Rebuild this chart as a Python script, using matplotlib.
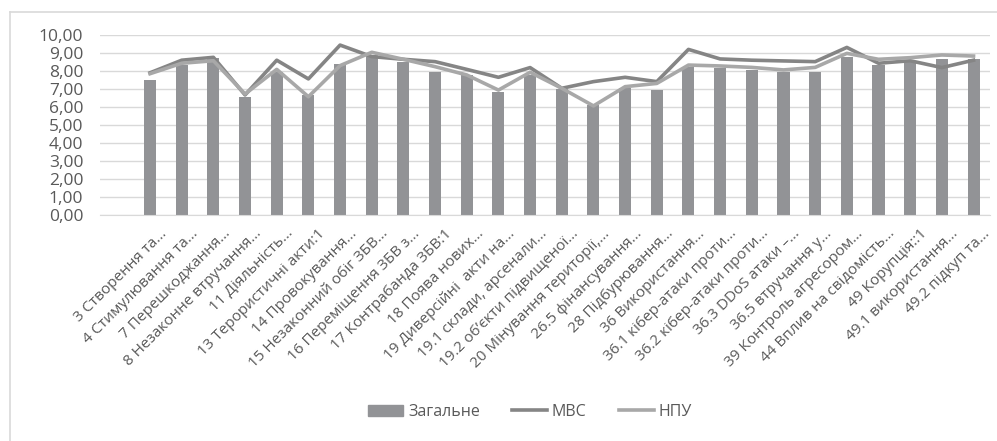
import matplotlib.pyplot as plt
import matplotlib.transforms as mtransforms
import numpy as np
from matplotlib.ticker import FuncFormatter
from matplotlib.lines import Line2D

categories = [
    "3 Створення та...", "4 Стимулювання та...", "7 Перешкоджання...",
    "8 Незаконне втручання...", "11 Діяльність...", "13 Терористичні акти:1",
    "14 Провокування...", "15 Незаконний обіг ЗБВ...", "16 Переміщення ЗБВ з...",
    "17 Контрабанда ЗБВ:1", "18 Поява нових...", "19 Диверсійні  акти на...",
    "19.1 склади, арсенали...", "19.2 об’єкти підвищеної...",
    "20 Мінування території,...", "26.5 фінансування...", "28 Підбурювання...",
    "36 Використання...", "36.1 кібер-атаки проти...", "36.2 кібер-атаки проти...",
    "36.3 DDoS атаки –...", "36.5 втручання у...", "39 Контроль агресором...",
    "44 Вплив на свідомість...", "49 Корупція::1", "49.1 використання...",
    "49.2 підкуп та...",
]

zagalne = [7.50, 8.33, 8.70, 6.54, 7.96, 6.67, 8.37, 8.89, 8.52, 7.93, 7.78,
           6.81, 7.78, 7.00, 6.11, 7.04, 6.94, 8.24, 8.15, 8.06, 7.96, 7.96,
           8.76, 8.33, 8.52, 8.65, 8.65]
mvs = [7.90, 8.60, 8.76, 6.67, 8.60, 7.56, 9.44, 8.80, 8.65, 8.52, 8.09,
       7.65, 8.19, 7.04, 7.41, 7.65, 7.41, 9.20, 8.67, 8.60, 8.56, 8.52,
       9.31, 8.43, 8.57, 8.19, 8.60]
npu = [7.85, 8.43, 8.57, 6.72, 8.09, 6.57, 8.30, 9.04, 8.65, 8.24, 7.78,
       6.94, 7.93, 7.04, 6.06, 7.13, 7.31, 8.33, 8.28, 8.20, 8.06, 8.20,
       8.98, 8.65, 8.74, 8.89, 8.83]

plt.rcParams['font.family'] = ['Open Sans', 'DejaVu Sans']
txt = '#595959'
grid = '#d9d9d9'

fig = plt.figure(figsize=(9.97, 4.41), dpi=100)
ax = fig.add_axes([100 / 997, 1 - 215 / 441, 890 / 997, 180 / 441])

x = np.arange(len(categories))
ax.bar(x, zagalne, width=0.38, color='#929396', zorder=2)
ax.plot(x, mvs, color='#858585', lw=2.6, zorder=3)
ax.plot(x, npu, color='#a8a8a8', lw=2.6, zorder=4)

ax.set_ylim(0, 10)
ax.set_yticks(np.arange(0, 11, 1))
ax.yaxis.set_major_formatter(FuncFormatter(lambda v, p: f"{v:.2f}".replace('.', ',')))
ax.set_xlim(-1.58, 26.52)
ax.set_xticks(x)
ax.set_xticklabels(categories, rotation=45, ha='right', va='top',
                   rotation_mode='anchor', fontsize=11, color=txt)
ax.tick_params(axis='y', length=0, labelsize=12.5, colors=txt, pad=12)
ax.tick_params(axis='x', length=0, pad=8)
shift = mtransforms.ScaledTranslation(0.09, 0, fig.dpi_scale_trans)
for lbl in ax.get_xticklabels():
    lbl.set_transform(lbl.get_transform() + shift)
ax.grid(axis='y', color=grid, lw=1, zorder=0)
for s in ['top', 'right', 'left']:
    ax.spines[s].set_visible(False)
ax.spines['bottom'].set_color(grid)

handles = [
    plt.Rectangle((0, 0), 1, 1, color='#929396'),
    Line2D([], [], color='#858585', lw=2.6),
    Line2D([], [], color='#a8a8a8', lw=2.6),
]
fig.legend(handles, ['Загальне', 'МВС', 'НПУ'], loc='center', ncol=3,
           bbox_to_anchor=(530 / 997, 1 - 412 / 441), frameon=False,
           fontsize=11.5, labelcolor=txt, handlelength=2.2, columnspacing=2.0,
           handletextpad=0.3)

# chart-area frame
fig.add_artist(Line2D([10 / 997, 1], [1 - 12 / 441] * 2, color=grid, lw=1.2))
fig.add_artist(Line2D([10 / 997] * 2, [0, 1 - 12 / 441], color=grid, lw=1.2))

plt.savefig("out.png", dpi=100)
